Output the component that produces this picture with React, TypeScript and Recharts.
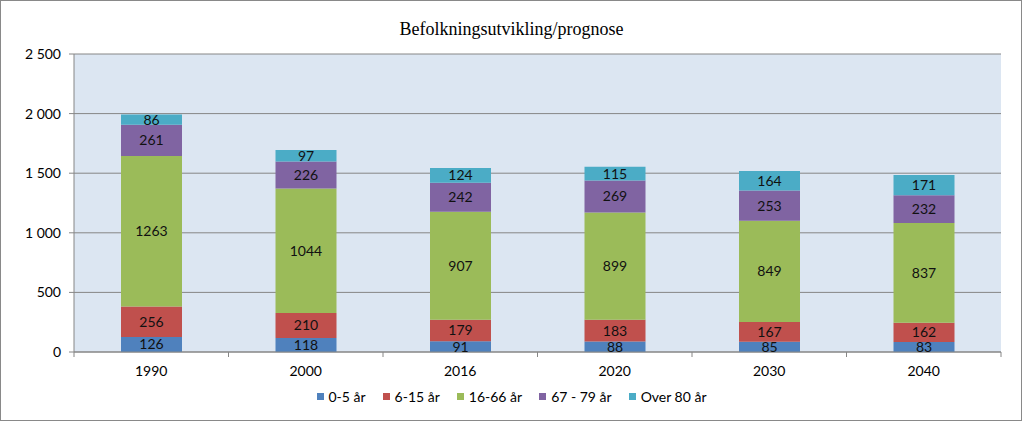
import React from 'react';
import { BarChart, Bar, XAxis, YAxis, CartesianGrid, Legend, LabelList } from 'recharts';

const categories = ['1990', '2000', '2016', '2020', '2030', '2040'];
const age0to5 = [126, 118, 91, 88, 85, 83];
const age6to15 = [256, 210, 179, 183, 167, 162];
const age16to66 = [1263, 1044, 907, 899, 849, 837];
const age67to79 = [261, 226, 242, 269, 253, 232];
const over80 = [86, 97, 124, 115, 164, 171];
const seriesNames = ['0-5 år', '6-15 år', '16-66 år', '67 - 79 år', 'Over 80 år'];
const seriesKeys = ['a', 'b', 'c', 'd', 'e'];
const seriesColors = ['#4F81BD', '#C0504D', '#9BBB59', '#8064A2', '#4BACC6'];
const yTicks = [0, 500, 1000, 1500, 2000, 2500];
const title = 'Befolkningsutvikling/prognose';

const data = categories.map((year, i) => ({
  year,
  a: age0to5[i],
  b: age6to15[i],
  c: age16to66[i],
  d: age67to79[i],
  e: over80[i],
}));

const FONT = 'Lato, "Open Sans", sans-serif';
const AXIS = '#868686';

const fmt = (v: number) => String(v).replace(/\B(?=(\d{3})+(?!\d))/g, ' ');

const XTick = (props: any) => {
  const { x, y, payload, index } = props;
  const off = payload && payload.offset ? payload.offset : 77;
  return (
    <g>
      <line x1={x - off} y1={y} x2={x - off} y2={y + 5} stroke={AXIS} />
      {index === categories.length - 1 && (
        <line x1={x + off} y1={y} x2={x + off} y2={y + 5} stroke={AXIS} />
      )}
      <text x={x} y={y + 20} textAnchor="middle" dominantBaseline="middle" fontFamily={FONT} fontSize={14} fill="#000">
        {payload.value}
      </text>
    </g>
  );
};

const LegendContent = () => (
  <div style={{ display: 'flex', justifyContent: 'center', alignItems: 'center', fontFamily: FONT, fontSize: 14, color: '#000' }}>
    {seriesNames.map((n, i) => (
      <div key={n} style={{ display: 'flex', alignItems: 'center', marginRight: i < seriesNames.length - 1 ? 17 : 0 }}>
        <span style={{ display: 'inline-block', width: 7, height: 7, background: seriesColors[i], marginRight: 5 }} />
        <span>{n}</span>
      </div>
    ))}
  </div>
);

export default function App() {
  return (
    <div style={{ position: 'absolute', left: 0, top: 0, width: 1023, height: 422, background: '#fff' }}>
      <div style={{ position: 'absolute', left: 0, top: 0, width: 1022, height: 421, boxSizing: 'border-box', border: '1px solid #898989' }} />
      <div style={{ position: 'absolute', left: 0, top: 19, width: 1023, textAlign: 'center', fontFamily: '"Liberation Serif", "Times New Roman", serif', fontSize: 18, color: '#000', lineHeight: '20px' }}>
        {title}
      </div>
      <div style={{ position: 'absolute', left: 0, top: 0 }}>
        <BarChart width={1023} height={422} data={data} margin={{ top: 54, right: 22, left: 14, bottom: 40 }} barSize={61}>
          <CartesianGrid vertical={false} stroke={AXIS} fill="#DCE6F2" />
          <XAxis
            dataKey="year"
            height={30}
            axisLine={{ stroke: AXIS }}
            tickLine={false}
            tickSize={0}
            tickMargin={0}
            tick={<XTick />}
            interval={0}
          />
          <YAxis
            width={60}
            domain={[0, 2500]}
            ticks={yTicks}
            tickFormatter={fmt}
            axisLine={{ stroke: AXIS }}
            tickLine={{ stroke: AXIS }}
            tickSize={5}
            tickMargin={8}
            tick={{ fontFamily: FONT, fontSize: 14, fill: '#000' }}
            interval={0}
          />
          <Legend layout="horizontal" verticalAlign="middle" align="center" wrapperStyle={{ top: 388, left: 0, width: 1023 }} content={<LegendContent />} />
          {seriesKeys.map((k, i) => (
            <Bar key={k} dataKey={k} name={seriesNames[i]} stackId="s" fill={seriesColors[i]} isAnimationActive={false}>
              <LabelList dataKey={k} position="center" fontFamily={FONT} fontSize={14} fill="#111" />
            </Bar>
          ))}
        </BarChart>
      </div>
    </div>
  );
}
